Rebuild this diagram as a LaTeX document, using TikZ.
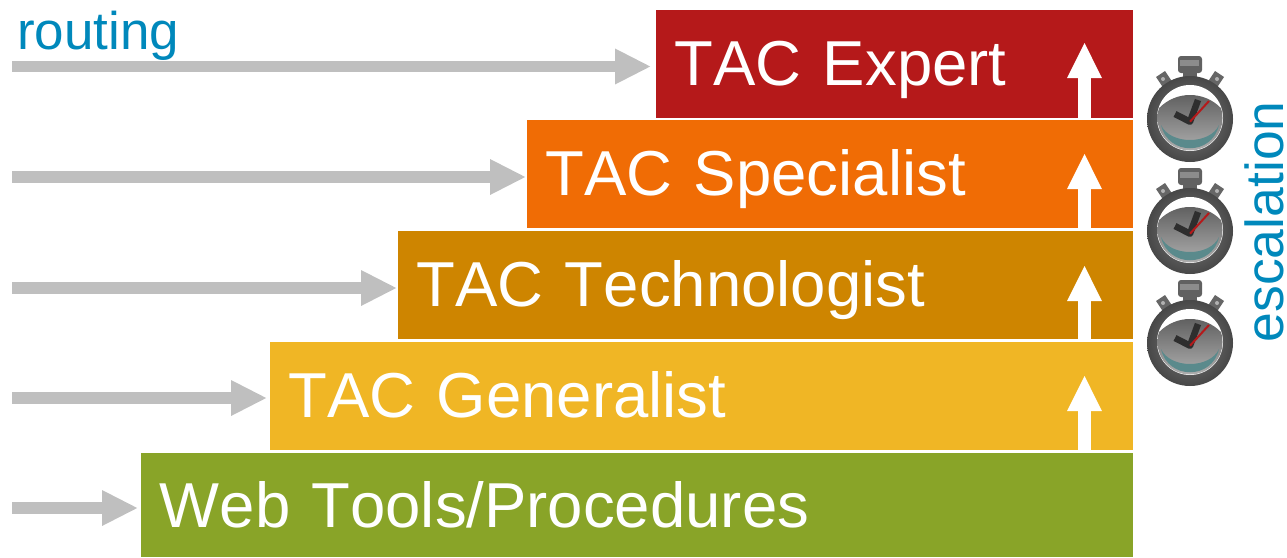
\documentclass[tikz,border=0pt]{standalone}
\usepackage{fontspec}
\setmainfont[Kerning=Off]{Liberation Sans}
\usetikzlibrary{arrows.meta}
\definecolor{cred}{HTML}{B5191A}
\definecolor{corange}{HTML}{F06C05}
\definecolor{camber}{HTML}{CE8500}
\definecolor{cyellow}{HTML}{F0B625}
\definecolor{cgreen}{HTML}{89A428}
\definecolor{cblue}{HTML}{0088BB}
\definecolor{cgrey}{HTML}{BFBFBF}
\definecolor{cteal}{HTML}{5A8A8C}
\tikzset{
  tier/.style={anchor=north east,fill=#1,text=white,inner xsep=19pt,inner ysep=0pt,
    text height=75pt,text depth=33pt,align=left,
    font=\fontsize{63.5}{70}\selectfont},
  route/.style={draw=cgrey,line width=11.5pt,-{Triangle[length=36pt,width=33pt]},shorten >=#1},
  route/.default=2pt,
  climb/.style={draw=white,line width=13pt,-{Triangle[length=36pt,width=32pt]}},
  caption/.style={text=cblue,inner sep=0pt,font=\fontsize{53}{56}\selectfont},
  stopwatch/.pic={
    % crown and side buttons
    \fill[rounded corners=3pt,fill=black!62] (-12,-63) rectangle (12,-46);
    \fill[fill=black!45] (-10,-59) rectangle (9,-53);
    \fill[fill=black!62] (-7,-47) rectangle (7,-38);
    \fill[fill=black!60] (-34,-42) -- (-25,-48) -- (-15,-33) -- (-24,-27) -- cycle;
    \fill[fill=black!60] (34,-42) -- (25,-48) -- (15,-33) -- (24,-27) -- cycle;
    \fill[fill=black!30] (-27,-40) circle (2);
    \fill[fill=black!30] (27,-40) circle (2);
    % case
    \shade[outer color=black!72,inner color=black!50] (0,0) circle (43);
    \fill[white] (0,-1) circle (33);
    % dial
    \begin{scope}
      \clip (0,-1) circle (32.5);
      \shade[top color=black!62,bottom color=black!15] (0,19) circle (43);
      \fill[cteal] (-29,6) .. controls (-22,37) and (22,37) .. (29,6)
                   .. controls (20,26) and (-20,26) .. cycle;
    \end{scope}
    % hands
    \draw[line width=6.5pt,color=black!82,line join=round] (8,-19) -- (0,2.7) -- (-15,-5);
    \draw[line width=2pt,color=cred] (0,2.7) -- (19,-18);
  }
}
\begin{document}
\begin{tikzpicture}[x=1pt,y=-1pt]
  \useasboundingbox (0,0) rectangle (1287,557);
  % tiers
  \node[tier=cgreen,text height=74pt,text depth=30pt,text width=954pt] (t5) at (1133,453) {Web Tools/Procedures};
  \node[tier=cyellow,text width=825pt] (t4) at (1133,342) {TAC Generalist};
  \node[tier=camber,text width=697pt] (t3) at (1133,231) {TAC Technologist};
  \node[tier=corange,text width=568pt] (t2) at (1133,120) {TAC Specialist};
  \node[tier=cred,text width=439pt] (t1) at (1133,10) {TAC Expert};
  % routing arrows
  \coordinate (r1) at (12,66.5);
  \coordinate (r2) at (12,177);
  \coordinate (r3) at (12,288);
  \coordinate (r4) at (12,398);
  \coordinate (r5) at (12,508);
  \draw[route=4.5pt] (r1) -- (r1 -| t1.west);
  \draw[route=0.5pt] (r2) -- (r2 -| t2.west);
  \draw[route=0.5pt] (r3) -- (r3 -| t3.west);
  \draw[route=2.5pt] (r4) -- (r4 -| t4.west);
  \draw[route=2.5pt] (r5) -- (r5 -| t5.west);
  % escalation arrows
  \coordinate (u1) at (1084.5,42);
  \coordinate (u2) at (1084.5,153);
  \coordinate (u3) at (1084.5,265);
  \coordinate (u4) at (1084.5,375);
  \draw[climb] (u1 |- t1.south) -- (u1);
  \draw[climb] (u2 |- t2.south) -- (u2);
  \draw[climb] (u3 |- t3.south) -- (u3);
  \draw[climb] (u4 |- t4.south) -- (u4);
  % stopwatches
  \pic at (1190,119) {stopwatch};
  \pic at (1190,231) {stopwatch};
  \pic at (1190,343) {stopwatch};
  % captions
  \node[caption,anchor=base west] (routing) at (17,49) {routing};
  \node[caption,anchor=base west,rotate=90,font=\fontsize{53.5}{56}\selectfont] (escalation) at (1283,342.5) {escalation};
\end{tikzpicture}
\end{document}
